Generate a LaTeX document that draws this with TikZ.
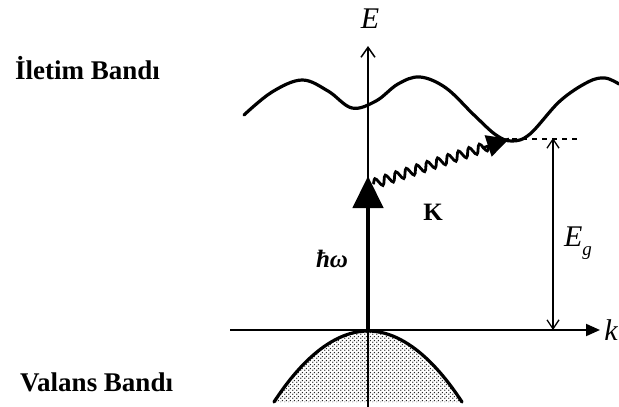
\documentclass[tikz,border=0pt]{standalone}
\usepackage{fontspec}
\setmainfont{Liberation Serif}
\usetikzlibrary{arrows.meta,decorations.pathmorphing,patterns.meta,calc}
\tikzdeclarepattern{
  name=vbdots, type=uncolored,
  bounding box={(0pt,0pt) and (4pt,4pt)},
  tile size={(4pt,4pt)},
  code={\fill (1pt,1pt) circle (0.9pt); \fill (3pt,3pt) circle (0.9pt);}
}
\begin{document}
\begin{tikzpicture}[x=1pt,y=-1pt,
  band/.style={line width=3.2pt, line cap=round},
  axis/.style={line width=1.5pt},
  bandlbl/.style={font=\bfseries\fontsize{27}{27}\selectfont, anchor=base west, inner sep=0pt},
  mathlbl/.style={inner sep=0pt, font=\itshape\fontsize{30}{30}\selectfont},
  thickarrow/.style={line width=4.5pt, -{Triangle[length=32pt,width=30pt]}},
  phonon/.style={line width=2.8pt, decorate, decoration={snake, amplitude=4.5pt, segment length=11pt, post length=18pt}},
  gaparrow/.style={line width=1.3pt, {Straight Barb[length=9pt,width=12pt]}-{Straight Barb[length=9pt,width=12pt]}}
]
\useasboundingbox (0,0) rectangle (619,407);

% coordinates
\coordinate (O) at (368,330);
\coordinate (Etop) at (368,46);
\coordinate (Ebot) at (368,407);
\coordinate (kL) at (230,330);
\coordinate (kR) at (600,330);
\coordinate (hwtip) at (368,176);
\coordinate (phs) at (373,184);
\coordinate (phe) at (509,139);
\coordinate (phm) at ($(phs)!0.8!(phe)$);
\coordinate (gtop) at (553,138);
\coordinate (gbot) at (553,330);
\coordinate (dL) at (512,139);
\coordinate (dR) at (580,139);

% valence band
\fill[pattern=vbdots, pattern color=black!85] (274,402) parabola bend (368,331) (462,402) -- cycle;
\draw[band] (274,402) parabola bend (368,331) (462,402);

% conduction band
\draw[band] plot[smooth, tension=0.6] coordinates {(244,115) (272,92) (302,80) (328,91) (352,108) (376,101) (398,84) (420,77) (446,88) (474,115) (496,135) (512,141) (530,134) (560,101) (588,82) (605,78) (619,84)};

% axes
\draw[axis, -{Straight Barb[length=10pt,width=14pt]}] (Ebot) -- (Etop);
\draw[line width=2pt, -{Triangle[length=14pt,width=12pt]}] (kL) -- (kR);

% photon arrow
\draw[thickarrow] (O) -- (hwtip);

% phonon
\draw[phonon] (phs) -- (phe);
\draw[line width=2.5pt, -{Triangle[length=22pt,width=22pt]}] (phm) -- (phe);

% gap
\draw[line width=1.3pt, dash pattern=on 5pt off 5pt] (dL) -- (dR);
\draw[gaparrow] (gtop) -- (gbot);

% labels
\node[bandlbl] (cb) at (15,79) {İletim Bandı};
\node[bandlbl] (vb) at (20,391) {Valans Bandı};
\node[mathlbl] (El) at (370,19) {E};
\node[mathlbl] (kl) at (611,330) {k};
\node[mathlbl, font=\bfseries\itshape\fontsize{25}{25}\selectfont] (hw) at (332,259) {ħω};
\node[mathlbl, font=\bfseries\fontsize{25}{25}\selectfont] (K) at (433,212) {K};
\node[mathlbl] (Eg) at (578,243) {E\raisebox{-0.3em}{\fontsize{19}{19}\selectfont g}};
\end{tikzpicture}
\end{document}
